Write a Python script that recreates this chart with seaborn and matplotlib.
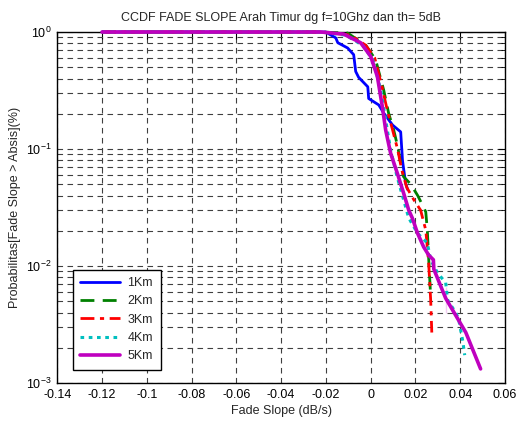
import numpy as np
import pandas as pd
import matplotlib
matplotlib.use("Agg")
import matplotlib.pyplot as plt
import seaborn as sns

# data
x_1km = [-0.12, -0.0201, -0.0156, -0.0147, -0.0103, -0.0076, -0.0067, -0.0054, -0.0013, -0.0009,
         0.0036, 0.0058, 0.0098, 0.0134, 0.0142, 0.0142, 0.0156, 0.0165]
y_1km = [1.0, 1.0, 0.89, 0.81, 0.73, 0.64, 0.46, 0.41, 0.34, 0.27,
         0.238, 0.203, 0.160, 0.140, 0.102, 0.058, 0.051, 0.045]

x_2km = [-0.12, -0.0223, -0.0103, -0.0022, 0.0022, 0.0058, 0.0080, 0.0103, 0.0121, 0.0134,
         0.0147, 0.0179, 0.0210, 0.0232, 0.0246, 0.0253, 0.0259, 0.0268]
y_2km = [1.0, 1.0, 0.98, 0.77, 0.58, 0.32, 0.203, 0.145, 0.104, 0.076,
         0.058, 0.050, 0.040, 0.033, 0.029, 0.0203, 0.0117, 0.0054]

x_3km = [-0.12, -0.0223, -0.0089, -0.0022, 0.0018, 0.0049, 0.0076, 0.0098, 0.0121, 0.0139,
         0.0161, 0.0192, 0.0223, 0.0246, 0.0259, 0.0268, 0.0273]
y_3km = [1.0, 1.0, 0.94, 0.77, 0.60, 0.35, 0.207, 0.145, 0.098, 0.066,
         0.047, 0.037, 0.030, 0.0203, 0.0106, 0.0051, 0.0027]

x_4km = [-0.12, -0.0223, -0.0112, -0.0036, 0.0009, 0.0045, 0.0067, 0.0089, 0.0116, 0.0134,
         0.0170, 0.0209, 0.0253, 0.0268, 0.0299, 0.0335, 0.0344, 0.0380, 0.0393, 0.0411, 0.0420]
y_4km = [1.0, 1.0, 0.94, 0.77, 0.58, 0.32, 0.177, 0.098, 0.060, 0.045,
         0.0257, 0.0191, 0.0157, 0.0113, 0.0087, 0.0072, 0.0051, 0.0040, 0.0035, 0.0023, 0.00173]

x_5km = [-0.12, -0.0223, -0.0121, -0.0045, 0.0, 0.0030, 0.0052, 0.0067, 0.0089, 0.0119,
         0.0147, 0.0170, 0.0186, 0.0209, 0.0237, 0.0259, 0.0280, 0.0282, 0.0335, 0.0335,
         0.0425, 0.0491]
y_5km = [1.0, 1.0, 0.96, 0.81, 0.62, 0.415, 0.23, 0.145, 0.092, 0.062,
         0.042, 0.030, 0.0257, 0.0191, 0.0145, 0.0124, 0.0113, 0.0094, 0.0066, 0.0040,
         0.0027, 0.00132]

series = [("1Km", x_1km, y_1km, "#0000ff", "-", 2.0),
          ("2Km", x_2km, y_2km, "#008000", (0, (5, 3)), 2.0),
          ("3Km", x_3km, y_3km, "#ff0000", (0, (5, 2, 1.5, 2)), 2.0),
          ("4Km", x_4km, y_4km, "#00bfbf", (0, (1.2, 1.5)), 2.2),
          ("5Km", x_5km, y_5km, "#bf00bf", "-", 2.6)]

sns.set_style("white")
plt.rcParams['font.family'] = ['Liberation Sans', 'DejaVu Sans']
plt.rcParams['font.size'] = 9
plt.rcParams['mathtext.fontset'] = 'custom'
plt.rcParams['mathtext.rm'] = 'Liberation Sans'

fig = plt.figure(figsize=(5.18, 4.23), dpi=100)
ax = fig.add_axes([57.3 / 518, 1 - 383 / 423, (505 - 57.3) / 518, (383 - 32) / 423])

for i, (name, xs, ys, col, ls, lw) in enumerate(series):
    df = pd.DataFrame({"x": xs, "y": ys})
    sns.lineplot(data=df, x="x", y="y", ax=ax, sort=False, color=col,
                 linestyle=ls, linewidth=lw, label=name, clip_on=False, zorder=5 + i)

ax.set_yscale("log")
ax.set_xlim(-0.14, 0.06)
ax.set_ylim(1e-3, 1)
ax.set_xticks(np.arange(-0.14, 0.0601, 0.02))
ax.set_xticklabels(["-0.14", "-0.12", "-0.1", "-0.08", "-0.06", "-0.04", "-0.02", "0",
                    "0.02", "0.04", "0.06"])
ax.grid(True, which="both", color="0.25", linestyle=(0, (5, 4)), linewidth=0.8)
ax.tick_params(which="both", direction="in", top=True, right=True, labelsize=9,
               colors="black", pad=4)
ax.tick_params(which="major", length=5)
ax.tick_params(which="minor", length=3)
for s in ax.spines.values():
    s.set_color("black")
    s.set_linewidth(1.0)

ax.set_title("CCDF FADE SLOPE Arah Timur dg f=10Ghz dan th= 5dB", fontsize=9, pad=8)
ax.set_xlabel("Fade Slope (dB/s)", fontsize=9, labelpad=3)
ax.set_ylabel("Probabilitas[Fade Slope > Absis](%)", fontsize=9, labelpad=4)

leg = ax.legend(loc="lower left", bbox_to_anchor=(0.02, 0.02), fontsize=9, handlelength=3.2,
                fancybox=False, framealpha=1, edgecolor="black", borderpad=0.6,
                labelspacing=0.5, handletextpad=0.6)
leg.get_frame().set_linewidth(1.0)
leg.set_zorder(20)

fig.savefig("out.png", dpi=100)
